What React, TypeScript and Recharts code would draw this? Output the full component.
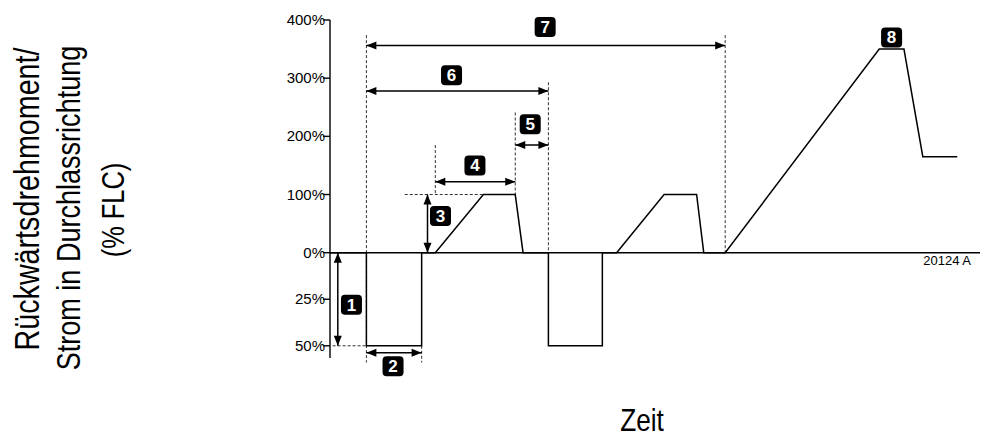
import React from "react"
import {
  LineChart,
  Line,
  XAxis,
  YAxis,
  ReferenceLine,
  ReferenceDot,
} from "recharts"

// time axis is unitless (0..100), levels are % FLC; reverse torque is negative
const waveTime = [0, 5.6, 5.6, 14.1, 14.1, 16.2, 23.6, 28.5, 29.7, 33.6, 33.6, 41.9, 41.9, 44.1, 51.4, 56.4, 57.5, 60.8, 84.5, 88.3, 91.2, 96.5]
const waveLevel = [0, 0, -50, -50, 0, 0, 100, 100, 0, 0, -50, -50, 0, 0, 100, 100, 0, 0, 350, 350, 165, 165]

const yTickValues = [400, 300, 200, 100, 0, -25, -50]

// dimension arrows: [t1, t2, level1, level2]
const arrowIds = ["1", "2", "3", "4", "5", "6", "7"]
const arrowSpans = [
  [1.2, 1.2, 0, -50],
  [5.6, 14.1, -53.7, -53.7],
  [15.0, 15.0, 0, 100],
  [16.2, 28.5, 122, 122],
  [28.5, 33.6, 185, 185],
  [5.6, 33.6, 278, 278],
  [5.6, 60.8, 356, 356],
]

// dashed guide lines: [t1, t2, level1, level2]
const guideSpans = [
  [5.6, 5.6, 374, -59],
  [14.1, 14.1, -50, -59],
  [16.2, 16.2, 185, 100],
  [28.5, 28.5, 241, 100],
  [33.6, 33.6, 293, 0],
  [60.8, 60.8, 374, 0],
  [11.5, 23.6, 100, 100],
  [0.4, 5.6, -50, -50],
]

const badgeLabels = ["1", "2", "3", "4", "5", "6", "7", "8"]
const badgeTime = [3.3, 9.7, 17.0, 22.3, 30.8, 18.7, 33.1, 86.4]
const badgeLevel = [-28, -61, 63, 150, 221, 305, 388, 370]

// the reverse (negative) part of the axis is drawn stretched
const NEG_SCALE = 3.2
const toPlot = (v: number) => (v < 0 ? v * NEG_SCALE : v)

const FONT = "'Liberation Sans', Arial, sans-serif"

const waveRows = waveTime.map((t, i) => ({ t, y: toPlot(waveLevel[i]) }))
const yTicks = yTickValues.map(toPlot)

const ArrowShape = (p: any) => {
  const { x1, y1, x2, y2 } = p
  const dx = x2 - x1
  const dy = y2 - y1
  const len = Math.hypot(dx, dy) || 1
  const ux = dx / len
  const uy = dy / len
  const L = 10
  const w = 4
  const head = (tx: number, ty: number, sx: number, sy: number) =>
    `${tx},${ty} ${tx - sx * L - sy * w},${ty - sy * L + sx * w} ${tx - sx * L + sy * w},${ty - sy * L - sx * w}`
  return (
    <g>
      <line x1={x1} y1={y1} x2={x2} y2={y2} stroke="#000" strokeWidth={1.5} />
      <polygon points={head(x2, y2, ux, uy)} fill="#000" />
      <polygon points={head(x1, y1, -ux, -uy)} fill="#000" />
    </g>
  )
}

const Badge = (label: string) => (p: any) => (
  <g>
    <rect x={p.cx - 10.5} y={p.cy - 10} width={21} height={20} rx={4} fill="#000" />
    <text x={p.cx} y={p.cy + 6} textAnchor="middle" fill="#fff" fontFamily={FONT} fontWeight="bold" fontSize={17}>
      {label}
    </text>
  </g>
)

const YTick = (p: any) => {
  const v = p.payload.value
  const i = yTicks.indexOf(v)
  const raw = i >= 0 ? yTickValues[i] : v
  return (
    <text x={p.x + 2} y={p.y + 5} textAnchor="end" fontFamily={FONT} fontSize={15} fill="#000">
      {`${Math.abs(raw)}%`}
    </text>
  )
}

// titles use a horizontally squeezed sans to mimic the narrow face of the original
const Titles = () => (
  <g fontFamily={FONT} fill="#000">
    <text transform="translate(39 199) rotate(-90) scale(0.82 1)" textAnchor="middle" fontSize={35}>
      Rückwärtsdrehmoment/
    </text>
    <text transform="translate(80 208) rotate(-90) scale(0.82 1)" textAnchor="middle" fontSize={33}>
      Strom in Durchlassrichtung
    </text>
    <text transform="translate(124 210) rotate(-90) scale(0.82 1)" textAnchor="middle" fontSize={31}>
      (% FLC)
    </text>
    <text transform="translate(642 431) scale(0.82 1)" textAnchor="middle" fontSize={32}>
      Zeit
    </text>
    <text x={971} y={265} textAnchor="end" fontSize={13}>
      20124 A
    </text>
  </g>
)

export default function App() {
  return (
    <div style={{ position: "absolute", left: 0, top: 0, background: "#fff" }}>
      <LineChart width={990} height={437} margin={{ top: 20, right: 10, bottom: 79, left: 0 }}>
        <XAxis type="number" dataKey="t" domain={[0, 100]} hide />
        <YAxis
          type="number"
          domain={[-181, 400]}
          ticks={yTicks}
          interval={0}
          width={330}
          tickSize={7}
          tickMargin={0}
          stroke="#000"
          strokeWidth={1.4}
          tick={YTick}
          label={{ content: () => <Titles /> }}
        />
        <ReferenceLine y={0} stroke="#000" strokeWidth={1.4} />
        {guideSpans.map((s, i) => (
          <ReferenceLine
            key={`g${i}`}
            segment={[
              { x: s[0], y: toPlot(s[2]) },
              { x: s[1], y: toPlot(s[3]) },
            ]}
            stroke="#333"
            strokeWidth={1}
            strokeDasharray="3 2"
            ifOverflow="visible"
          />
        ))}
        <Line
          data={waveRows}
          dataKey="y"
          type="linear"
          stroke="#000"
          strokeWidth={1.5}
          dot={false}
          isAnimationActive={false}
        />
        {arrowSpans.map((s, i) => (
          <ReferenceLine
            key={`a${arrowIds[i]}`}
            segment={[
              { x: s[0], y: toPlot(s[2]) },
              { x: s[1], y: toPlot(s[3]) },
            ]}
            shape={ArrowShape}
            ifOverflow="visible"
          />
        ))}
        {badgeLabels.map((b, i) => (
          <ReferenceDot
            key={`b${b}`}
            x={badgeTime[i]}
            y={toPlot(badgeLevel[i])}
            r={10}
            shape={Badge(b)}
            ifOverflow="visible"
          />
        ))}
      </LineChart>
    </div>
  )
}
